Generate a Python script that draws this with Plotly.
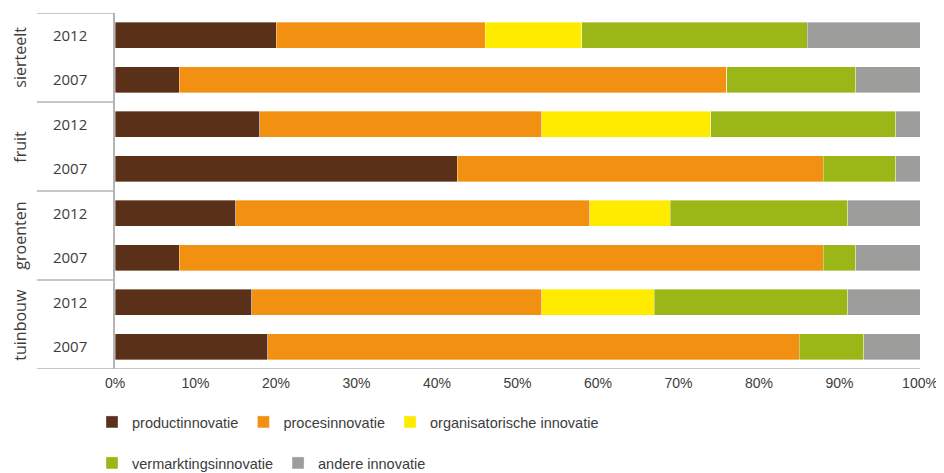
import plotly.graph_objects as go

# rows from top to bottom
sectors = ["sierteelt", "sierteelt", "fruit", "fruit",
           "groenten", "groenten", "tuinbouw", "tuinbouw"]
years = ["2012", "2007", "2012", "2007", "2012", "2007", "2012", "2007"]

product = [20, 8, 18, 42.5, 15, 8, 17, 19]
proces = [26, 68, 35, 45.5, 44, 80, 36, 66]
organisatie = [12, 0, 21, 0, 10, 0, 14, 0]
vermarkting = [28, 16, 23, 9, 22, 4, 24, 8]
andere = [14, 8, 3, 3, 9, 8, 9, 7]

series = [
    ("productinnovatie", product, "#5A3019", "legend"),
    ("procesinnovatie", proces, "#F29111", "legend"),
    ("organisatorische innovatie", organisatie, "#FFEB00", "legend"),
    ("vermarktingsinnovatie", vermarkting, "#9BB717", "legend2"),
    ("andere innovatie", andere, "#9D9D9C", "legend2"),
]

rows = [s + " " + y for s, y in zip(sectors, years)]

fig = go.Figure()
for name, vals, col, leg in series:
    fig.add_trace(go.Bar(
        y=rows, x=vals, name=name, orientation="h",
        marker=dict(color=col, line=dict(color="rgba(255,255,255,0.6)", width=0.6)),
        legend=leg,
    ))

grey = "#B4B4B4"
txt = "#3C3C3C"
sans = "Liberation Sans, Arial, sans-serif"

# page has an 8px body margin, so the figure is 8px smaller
W, H = 936, 465

# sector labels and dividers on the left
groups = list(dict.fromkeys(sectors))
for i, g in enumerate(groups):
    fig.add_annotation(x=-0.119, xref="paper", xanchor="center",
                       y=2 * i + 0.5, yref="y", yanchor="middle",
                       text=g, textangle=-90, showarrow=False,
                       font=dict(family="Open Sans", size=16, color=txt))
for k in range(len(groups)):
    fig.add_shape(type="line", xref="paper", yref="y",
                  x0=-0.097, x1=0, y0=2 * k - 0.5, y1=2 * k - 0.5,
                  line=dict(color=grey, width=1.5))
fig.add_shape(type="line", xref="paper", yref="y",
              x0=-0.097, x1=1, y0=len(rows) - 0.5, y1=len(rows) - 0.5,
              line=dict(color=grey, width=1.5))

fig.update_layout(
    width=W, height=H,
    barmode="stack", bargap=0.42,
    plot_bgcolor="white", paper_bgcolor="white",
    margin=dict(l=107, r=24, t=5, b=104),
    font=dict(family=sans, size=14, color=txt),
    xaxis=dict(range=[0, 100], tickvals=list(range(0, 101, 10)),
               ticktext=[f"{v}%" for v in range(0, 101, 10)],
               showgrid=False, zeroline=False, showline=False,
               automargin=False, ticks="", ticklabelstandoff=4,
               tickfont=dict(family=sans, size=14, color=txt)),
    yaxis=dict(type="category", categoryorder="array", categoryarray=rows,
               range=[len(rows) - 0.5, -0.5], tickvals=rows, ticktext=years,
               showline=True, linecolor=grey, linewidth=1.5, automargin=False,
               ticks="", ticklabelstandoff=23,
               tickfont=dict(family="Open Sans", size=15, color=txt)),
    legend=dict(orientation="h", xref="container", x=84 / W, xanchor="left",
                yref="container", y=1 - 414 / H, yanchor="middle",
                font=dict(family=sans, size=14.5, color=txt),
                itemwidth=30, traceorder="normal"),
    legend2=dict(orientation="h", xref="container", x=84 / W, xanchor="left",
                 yref="container", y=1 - 455 / H, yanchor="middle",
                 font=dict(family=sans, size=14.5, color=txt),
                 itemwidth=30, traceorder="normal"),
)

fig.write_html("out.html")
